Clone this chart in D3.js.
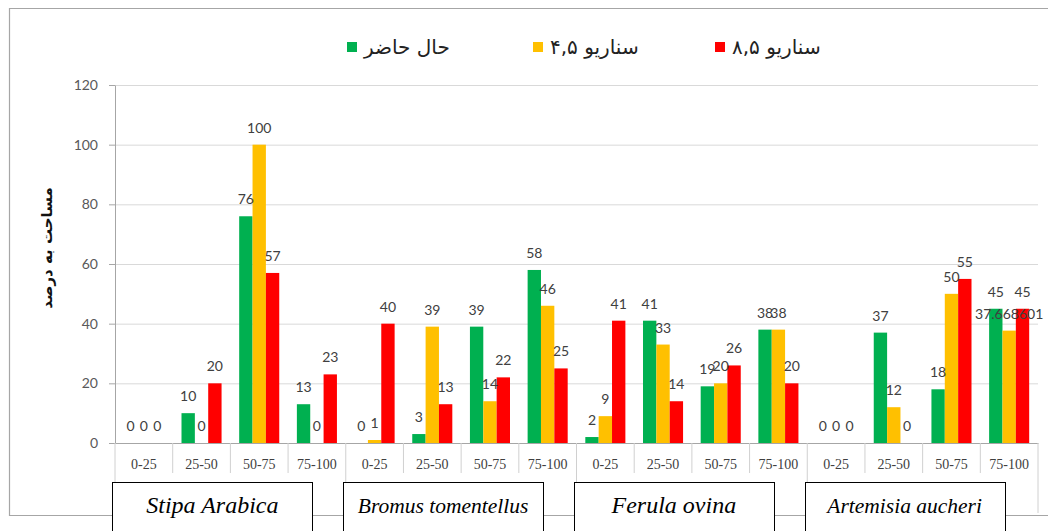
<!DOCTYPE html>
<html>
<head>
<meta charset="utf-8">
<script src="https://cdn.jsdelivr.net/npm/d3@7"></script>
<style>
body { margin: 0; background: #fff; }
svg { display: block; }
</style>
</head>
<body>
<div id="main"></div>
<script>
// chart values
const species = ["Stipa Arabica", "Bromus tomentellus", "Ferula ovina", "Artemisia aucheri"];
const classes = ["0-25", "25-50", "50-75", "75-100"];
const seriesNames = ["حال حاضر", "سناریو ۴,۵", "سناریو ۸,۵"];
const current = [0, 10, 76, 13, 0, 3, 39, 58, 2, 41, 19, 38, 0, 37, 18, 45];
const rcp45 = [0, 0, 100, 0, 1, 39, 14, 46, 9, 33, 20, 38, 0, 12, 50, 37.668601];
const rcp85 = [0, 20, 57, 23, 40, 13, 22, 25, 41, 14, 26, 20, 0, 0, 55, 45];
const yTicks = [0, 20, 40, 60, 80, 100, 120];
const colors = ["#00b050", "#ffc000", "#ff0000"];

const width = 1048;
const height = 531;
const plotLeft = 115, plotRight = 1038, plotTop = 85, plotBottom = 443;

const svg = d3.select('#main')
  .append('svg')
  .attr('width', width)
  .attr('height', height);

// outer frame
svg.append('path')
  .attr('d', `M${width + 5},8.5 H9.5 V515.5 H${width + 5}`)
  .attr('fill', 'none')
  .attr('stroke', '#a6a6a6')
  .attr('stroke-width', 1.2);

const series = [current, rcp45, rcp85];
const cats = d3.range(species.length * classes.length);

const x0 = d3.scaleBand().domain(cats).range([plotLeft, plotRight]).padding(0);
const x1 = d3.scaleBand().domain([0, 1, 2]).range([0, x0.bandwidth()])
  .paddingInner(0).paddingOuter(0.66);
const y = d3.scaleLinear().domain([0, 120]).range([plotBottom, plotTop]);

// gridlines
svg.append('g')
  .attr('transform', `translate(${plotLeft},0)`)
  .call(d3.axisLeft(y).tickValues(yTicks).tickSize(-(plotRight - plotLeft)).tickFormat(''))
  .call(g => g.select('.domain').remove())
  .call(g => g.selectAll('line').attr('stroke', '#d9d9d9'));

// y axis
svg.append('g').attr('id', 'y-axis')
  .attr('transform', `translate(${plotLeft},0)`)
  .call(d3.axisLeft(y).tickValues(yTicks).tickSize(6).tickPadding(11).tickSizeOuter(0))
  .call(g => g.select('.domain').attr('stroke', '#a6a6a6'))
  .call(g => g.selectAll('line').attr('stroke', '#a6a6a6'))
  .call(g => g.selectAll('text')
    .attr('font-family', 'Lato, sans-serif')
    .attr('font-size', 14)
    .attr('fill', '#595959'));

// y title
svg.append('text')
  .attr('transform', 'translate(52,248) rotate(-90)')
  .attr('text-anchor', 'middle')
  .attr('font-family', 'DejaVu Sans, sans-serif')
  .attr('font-weight', 'bold')
  .attr('font-size', 15)
  .attr('fill', '#111')
  .text('مساحت به درصد');

// bars
const groups = svg.selectAll('.cat').data(cats).enter()
  .append('g').attr('class', 'cat')
  .attr('transform', d => `translate(${x0(d)},0)`);

groups.selectAll('rect')
  .data(i => series.map((s, k) => ({ k: k, v: s[i] })))
  .enter().append('rect')
  .attr('x', d => x1(d.k))
  .attr('y', d => y(d.v))
  .attr('width', x1.bandwidth())
  .attr('height', d => y(0) - y(d.v))
  .attr('fill', d => colors[d.k]);

// data labels
groups.selectAll('text')
  .data(i => series.map((s, k) => ({ k: k, v: s[i] })))
  .enter().append('text')
  .attr('x', d => x1(d.k) + x1.bandwidth() / 2)
  .attr('y', d => y(d.v) - 12)
  .attr('text-anchor', 'middle')
  .attr('font-family', 'Lato, sans-serif')
  .attr('font-size', 14)
  .attr('fill', '#404040')
  .text(d => d.v);

// x axis
svg.append('g').attr('id', 'x-axis')
  .attr('transform', `translate(0,${plotBottom})`)
  .call(d3.axisBottom(x0).tickSize(0).tickPadding(16).tickSizeOuter(0)
    .tickFormat(i => classes[i % classes.length]))
  .call(g => g.select('.domain').attr('stroke', '#a6a6a6'))
  .call(g => g.selectAll('text')
    .attr('font-family', 'Liberation Serif, serif')
    .attr('font-size', 14)
    .attr('fill', '#404040'));

// category separators
const seps = d3.range(cats.length + 1);
svg.selectAll('.sep').data(seps).enter()
  .append('line').attr('class', 'sep')
  .attr('x1', i => plotLeft + i * x0.step())
  .attr('x2', i => plotLeft + i * x0.step())
  .attr('y1', plotBottom)
  .attr('y2', i => i % classes.length === 0 ? 513 : 473)
  .attr('stroke', '#d0d0d0');

// species boxes
const boxW = 200;
species.forEach((name, g) => {
  const gx = plotLeft + (g * classes.length + classes.length / 2) * x0.step() - 18;
  svg.append('rect')
    .attr('x', Math.round(gx - boxW / 2) + 0.5)
    .attr('y', 482.5)
    .attr('width', boxW)
    .attr('height', 60)
    .attr('fill', '#fff')
    .attr('stroke', '#000');
  svg.append('text')
    .attr('x', gx)
    .attr('y', 513)
    .attr('text-anchor', 'middle')
    .attr('font-family', 'Liberation Serif, serif')
    .attr('font-style', 'italic')
    .attr('font-size', name.length > 14 ? 21.5 : 24)
    .attr('fill', '#000')
    .text(name);
});

// legend
const legendX = [347, 533, 715];
seriesNames.forEach((name, k) => {
  svg.append('rect')
    .attr('x', legendX[k]).attr('y', 42)
    .attr('width', 10).attr('height', 10)
    .attr('fill', colors[k]);
  svg.append('text')
    .attr('x', legendX[k] + 17).attr('y', 54)
    .attr('font-family', 'DejaVu Sans, sans-serif')
    .attr('font-size', 20)
    .attr('fill', '#222')
    .text(name);
});
</script>
</body>
</html>
